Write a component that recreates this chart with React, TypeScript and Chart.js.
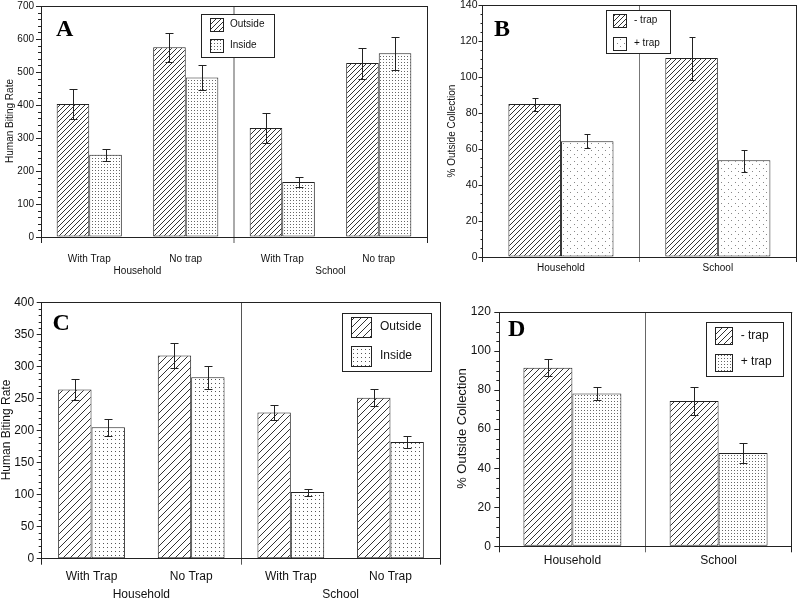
import React, { useEffect, useRef } from 'react';
import { Chart, registerables } from 'chart.js';
Chart.register(...registerables);

// ---------------- DATA ----------------
// Panel A
const aCategories = ['With Trap', 'No trap', 'With Trap', 'No trap'];
const aGroups = ['Household', 'School'];
const aLegend = ['Outside', 'Inside'];
const aOutside = [403, 575, 330, 527];
const aOutsideHi = [447, 618, 377, 572];
const aOutsideLo = [358, 530, 285, 480];
const aInside = [249, 483, 167, 557];
const aInsideHi = [268, 520, 182, 605];
const aInsideLo = [230, 445, 152, 507];

// Panel B
const bCategories = ['Household', 'School'];
const bLegend = ['- trap', '+ trap'];
const bMinus = [85, 110.5];
const bMinusHi = [88.5, 122];
const bMinusLo = [81.3, 98.3];
const bPlus = [64.3, 53.7];
const bPlusHi = [68.2, 59.6];
const bPlusLo = [60.3, 47.4];

// Panel C
const cCategories = ['With Trap', 'No Trap', 'With Trap', 'No Trap'];
const cGroups = ['Household', 'School'];
const cLegend = ['Outside', 'Inside'];
const cOutside = [264, 317, 228, 251];
const cOutsideHi = [280, 337, 240, 264];
const cOutsideLo = [247, 297, 216, 238];
const cInside = [205, 283, 104, 182];
const cInsideHi = [218, 300, 109, 192];
const cInsideLo = [191, 265, 98, 172];

// Panel D
const dCategories = ['Household', 'School'];
const dLegend = ['- trap', '+ trap'];
const dMinus = [91.5, 74.4];
const dMinusHi = [95.7, 81.7];
const dMinusLo = [87.2, 67.1];
const dPlus = [78.3, 47.8];
const dPlusHi = [81.7, 52.7];
const dPlusLo = [74.7, 42.8];

// ---------------- LAYOUT / STYLE ----------------
const W = 798;
const H = 601;
const OFF = 50;
const CW = W + 2 * OFF;
const CH = H + 2 * OFF;
const YW = 40;
const XH = 40;
const SANS = '"Liberation Sans", Arial, Helvetica, sans-serif';
const SERIF = '"Liberation Serif", "Times New Roman", serif';

type Series = { data: number[]; hi: number[]; lo: number[] };
type Panel = {
  key: string;
  letter: string; letterX: number; letterBase: number; letterSize: number;
  l: number; t: number; r: number; b: number;
  yMax: number; yStep: number; yMinor: number;
  tickFont: number; xFont: number; titleFont: number; legendFont: number;
  yTitle: string; yTitleX: number; yTitleY: number;
  categories: string[]; groups: string[] | null; groupY: number;
  series: Series[]; legendLabels: string[];
  legBox: number[]; sw: number[]; legTextX: number;
  hatch: number[]; hatchColor: string;
  dots: { size: number; pts: number[][]; color: string };
  dividerColor: string; dividerWidth: number;
  yTick: number; yMinorTick: number; yPad: number;
  xTick: number; xPad: number; cap: number; catPct: number;
};

const panels: Panel[] = [
  {
    key: 'A', letter: 'A', letterX: 56, letterBase: 36, letterSize: 24,
    l: 41, t: 6, r: 427, b: 237,
    yMax: 700, yStep: 100, yMinor: 20,
    tickFont: 10, xFont: 10, titleFont: 10, legendFont: 10,
    yTitle: 'Human Biting Rate', yTitleX: 10, yTitleY: 121,
    categories: aCategories, groups: aGroups, groupY: 271,
    series: [
      { data: aOutside, hi: aOutsideHi, lo: aOutsideLo },
      { data: aInside, hi: aInsideHi, lo: aInsideLo },
    ],
    legendLabels: aLegend,
    legBox: [201, 14, 73, 43], sw: [209.5, 17.5, 38.5, 13, 13], legTextX: 230,
    hatch: [5, 5], hatchColor: '#333',
    dots: { size: 3, pts: [[1, 1]], color: '#666' },
    dividerColor: '#aaa', dividerWidth: 2,
    yTick: 5, yMinorTick: 3, yPad: 2, xTick: 6, xPad: 10, cap: 8, catPct: 0.675,
  },
  {
    key: 'B', letter: 'B', letterX: 494, letterBase: 35.5, letterSize: 24,
    l: 482.5, t: 5, r: 796.3, b: 257,
    yMax: 140, yStep: 20, yMinor: 5,
    tickFont: 10.5, xFont: 10, titleFont: 10, legendFont: 10,
    yTitle: '% Outside Collection', yTitleX: 452.7, yTitleY: 131,
    categories: bCategories, groups: null, groupY: 0,
    series: [
      { data: bMinus, hi: bMinusHi, lo: bMinusLo },
      { data: bPlus, hi: bPlusHi, lo: bPlusLo },
    ],
    legendLabels: bLegend,
    legBox: [605.7, 10, 64.3, 43], sw: [613.3, 14, 36.7, 12.5, 13], legTextX: 634,
    hatch: [5, 5], hatchColor: '#333',
    dots: { size: 7, pts: [[1, 1], [4, 4]], color: '#888' },
    dividerColor: '#777', dividerWidth: 1,
    yTick: 4, yMinorTick: 2, yPad: 1, xTick: 5, xPad: 0, cap: 6, catPct: 0.67,
  },
  {
    key: 'C', letter: 'C', letterX: 52.5, letterBase: 330, letterSize: 24,
    l: 41.7, t: 302.3, r: 440.3, b: 558.7,
    yMax: 400, yStep: 50, yMinor: 10,
    tickFont: 12, xFont: 12, titleFont: 12, legendFont: 12,
    yTitle: 'Human Biting Rate', yTitleX: 6.5, yTitleY: 430,
    categories: cCategories, groups: cGroups, groupY: 595,
    series: [
      { data: cOutside, hi: cOutsideHi, lo: cOutsideLo },
      { data: cInside, hi: cInsideHi, lo: cInsideLo },
    ],
    legendLabels: cLegend,
    legBox: [341.7, 312.7, 89, 58], sw: [350.7, 316.7, 346, 20, 20], legTextX: 380,
    hatch: [7, 7], hatchColor: '#333',
    dots: { size: 4, pts: [[1, 1]], color: '#555' },
    dividerColor: '#555', dividerWidth: 1,
    yTick: 5, yMinorTick: 3, yPad: 2.5, xTick: 6, xPad: 5, cap: 8, catPct: 0.67,
  },
  {
    key: 'D', letter: 'D', letterX: 508, letterBase: 336, letterSize: 24,
    l: 499.3, t: 312, r: 791.7, b: 546.3,
    yMax: 120, yStep: 20, yMinor: 5,
    tickFont: 12, xFont: 12, titleFont: 13, legendFont: 12,
    yTitle: '% Outside Collection', yTitleX: 462, yTitleY: 428.5,
    categories: dCategories, groups: null, groupY: 0,
    series: [
      { data: dMinus, hi: dMinusHi, lo: dMinusLo },
      { data: dPlus, hi: dPlusHi, lo: dPlusLo },
    ],
    legendLabels: dLegend,
    legBox: [705.7, 321.7, 77, 54.3], sw: [715.3, 327, 353.5, 16.5, 16.5], legTextX: 740.7,
    hatch: [6, 6], hatchColor: '#333',
    dots: { size: 3, pts: [[1, 1]], color: '#666' },
    dividerColor: '#666', dividerWidth: 1,
    yTick: 5, yMinorTick: 3, yPad: 3.5, xTick: 6, xPad: 1, cap: 8, catPct: 0.67,
  },
];

function makeHatch(ctx: CanvasRenderingContext2D, w: number, h: number, color: string) {
  const c = document.createElement('canvas');
  c.width = w;
  c.height = h;
  const g = c.getContext('2d')!;
  g.fillStyle = '#fff';
  g.fillRect(0, 0, w, h);
  g.strokeStyle = color;
  g.lineWidth = 1;
  g.beginPath();
  const seg = (cx: number, cy: number) => {
    g.moveTo(cx - w, cy + h);
    g.lineTo(cx + w, cy - h);
  };
  seg(w / 2, h / 2);
  seg(0, 0);
  seg(w, h);
  g.stroke();
  return ctx.createPattern(c, 'repeat')!;
}

function makeDots(ctx: CanvasRenderingContext2D, size: number, pts: number[][], color: string) {
  const c = document.createElement('canvas');
  c.width = size;
  c.height = size;
  const g = c.getContext('2d')!;
  g.fillStyle = '#fff';
  g.fillRect(0, 0, size, size);
  g.fillStyle = color;
  pts.forEach(([x, y]) => g.fillRect(x, y, 1, 1));
  return ctx.createPattern(c, 'repeat')!;
}

function PanelChart({ p }: { p: Panel }) {
  const ref = useRef<HTMLCanvasElement>(null);
  useEffect(() => {
    const canvas = ref.current!;
    const ctx = canvas.getContext('2d')!;
    const fills = [
      makeHatch(ctx, p.hatch[0], p.hatch[1], p.hatchColor),
      makeDots(ctx, p.dots.size, p.dots.pts, p.dots.color),
    ];
    const n = p.categories.length;

    const deco = {
      id: 'deco' + p.key,
      afterDatasetsDraw(chart: any) {
        const c = chart.ctx as CanvasRenderingContext2D;
        const ys = chart.scales.y;
        c.save();
        c.strokeStyle = '#222';
        c.lineWidth = 1;
        p.series.forEach((s, i) => {
          const meta = chart.getDatasetMeta(i);
          meta.data.forEach((el: any, j: number) => {
            const x = Math.round(el.x) + 0.5;
            const yh = Math.round(ys.getPixelForValue(s.hi[j])) + 0.5;
            const yl = Math.round(ys.getPixelForValue(s.lo[j])) + 0.5;
            c.beginPath();
            c.moveTo(x, yh);
            c.lineTo(x, yl);
            c.moveTo(x - p.cap / 2, yh);
            c.lineTo(x + p.cap / 2, yh);
            c.moveTo(x - p.cap / 2, yl);
            c.lineTo(x + p.cap / 2, yl);
            c.stroke();
          });
        });
        c.restore();
      },
      afterDraw(chart: any) {
        const c = chart.ctx as CanvasRenderingContext2D;
        const ys = chart.scales.y;
        const xs = chart.scales.x;
        const area = chart.chartArea;
        c.save();
        // top frame line
        c.strokeStyle = '#222';
        c.lineWidth = 1;
        c.beginPath();
        const ty = Math.round(area.top) + 0.5;
        c.moveTo(area.left, ty);
        c.lineTo(area.right + 0.5, ty);
        c.stroke();
        // minor ticks
        const cnt = Math.round(p.yMax / p.yMinor);
        c.beginPath();
        for (let k = 0; k <= cnt; k++) {
          const v = k * p.yMinor;
          if (Math.abs(v / p.yStep - Math.round(v / p.yStep)) < 1e-6) continue;
          const y = Math.round(ys.getPixelForValue(v)) + 0.5;
          c.moveTo(area.left - p.yMinorTick, y);
          c.lineTo(area.left, y);
        }
        c.stroke();
        // group labels
        if (p.groups) {
          c.fillStyle = '#111';
          c.font = `${p.xFont}px ${SANS}`;
          c.textAlign = 'center';
          c.textBaseline = 'middle';
          p.groups.forEach((g, gi) => {
            const x = (xs.getPixelForValue(2 * gi) + xs.getPixelForValue(2 * gi + 1)) / 2;
            c.fillText(g, x, p.groupY + OFF);
          });
        }
        c.translate(OFF, OFF);
        // panel letter
        c.fillStyle = '#000';
        c.font = `bold ${p.letterSize}px ${SERIF}`;
        c.textAlign = 'left';
        c.textBaseline = 'alphabetic';
        c.fillText(p.letter, p.letterX, p.letterBase);
        // y title
        c.save();
        c.translate(p.yTitleX, p.yTitleY);
        c.rotate(-Math.PI / 2);
        c.fillStyle = '#111';
        c.font = `${p.titleFont}px ${SANS}`;
        c.textAlign = 'center';
        c.textBaseline = 'middle';
        c.fillText(p.yTitle, 0, 0);
        c.restore();
        // legend
        const [bx, by, bw, bh] = p.legBox;
        c.fillStyle = '#fff';
        c.fillRect(bx, by, bw, bh);
        c.strokeStyle = '#222';
        c.lineWidth = 1;
        c.strokeRect(Math.round(bx) + 0.5, Math.round(by) + 0.5, Math.round(bw), Math.round(bh));
        const [sx, sy1, sy2, sw, sh] = p.sw;
        [sy1, sy2].forEach((sy, i) => {
          const rx = Math.round(sx) + 0.5;
          const ry = Math.round(sy) + 0.5;
          c.fillStyle = fills[i];
          c.fillRect(rx, ry, Math.round(sw), Math.round(sh));
          c.strokeStyle = '#222';
          c.strokeRect(rx, ry, Math.round(sw), Math.round(sh));
          c.fillStyle = '#111';
          c.font = `${p.legendFont}px ${SANS}`;
          c.textAlign = 'left';
          c.textBaseline = 'middle';
          c.fillText(p.legendLabels[i], p.legTextX, sy + sh / 2);
        });
        c.restore();
      },
    };

    const edgeColor = (cx: any) => {
      const i = cx.index;
      if (i === undefined || i === 0 || i === n) return '#222';
      if (i === n / 2) return p.dividerColor;
      return 'rgba(0,0,0,0)';
    };
    const edgeWidth = (cx: any) => {
      const i = cx.index;
      if (i !== undefined && i === n / 2) return p.dividerWidth;
      return 1;
    };

    const chart = new Chart(ctx, {
      type: 'bar',
      data: {
        labels: p.categories,
        datasets: p.series.map((s, i) => ({
          label: p.legendLabels[i],
          data: s.data,
          backgroundColor: fills[i] as any,
          borderColor: '#222',
          borderWidth: 1,
          borderSkipped: false,
          barPercentage: 1,
          categoryPercentage: p.catPct,
        })),
      },
      options: {
        responsive: false,
        animation: false,
        devicePixelRatio: 1,
        layout: {
          padding: {
            left: p.l + OFF - YW,
            top: p.t + OFF,
            right: W + OFF - p.r,
            bottom: H + OFF - p.b - XH,
          },
        },
        plugins: {
          legend: { display: false },
          tooltip: { enabled: false },
          title: { display: false },
        },
        scales: {
          x: {
            type: 'category',
            offset: true,
            grid: {
              display: true,
              offset: true,
              drawOnChartArea: true,
              drawTicks: true,
              tickLength: p.xTick,
              color: edgeColor as any,
              lineWidth: edgeWidth as any,
            },
            border: { display: true, color: '#222', width: 1 },
            ticks: {
              font: { family: SANS, size: p.xFont },
              color: '#111',
              padding: p.xPad,
              autoSkip: false,
              maxRotation: 0,
              minRotation: 0,
            },
            afterFit: (s: any) => {
              s.height = XH;
            },
          },
          y: {
            type: 'linear',
            min: 0,
            max: p.yMax,
            grid: {
              display: true,
              drawOnChartArea: false,
              drawTicks: true,
              tickLength: p.yTick,
              color: '#222',
            },
            border: { display: true, color: '#222', width: 1 },
            ticks: {
              stepSize: p.yStep,
              font: { family: SANS, size: p.tickFont },
              color: '#111',
              padding: p.yPad,
            },
            afterFit: (s: any) => {
              s.width = YW;
            },
          },
        },
      } as any,
      plugins: [deco],
    });
    return () => chart.destroy();
  }, []);
  return (
    <canvas
      ref={ref}
      width={CW}
      height={CH}
      style={{ position: 'absolute', left: -OFF, top: -OFF, width: CW, height: CH }}
    />
  );
}

export default function App() {
  return (
    <div
      style={{
        position: 'fixed',
        left: 0,
        top: 0,
        width: W,
        height: H,
        overflow: 'hidden',
        background: '#fff',
      }}
    >
      {panels.map((p) => (
        <PanelChart key={p.key} p={p} />
      ))}
    </div>
  );
}
